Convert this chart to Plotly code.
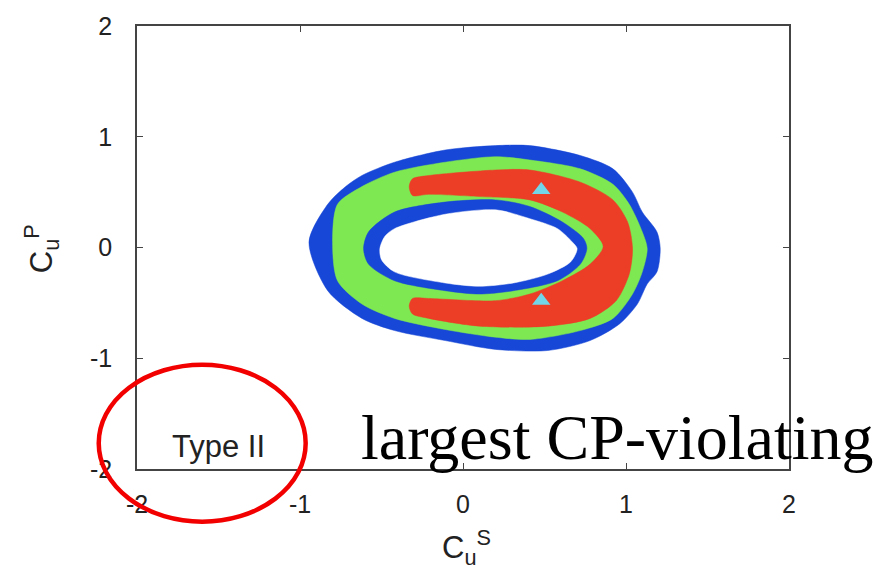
import plotly.graph_objects as go

# Allowed regions in the (C_u^S, C_u^P) plane, traced as closed boundaries
outer_blue_x = [-0.945, -0.83, -0.72, -0.62, -0.42, -0.11, 0.20, 0.41, 0.72, 0.92, 1.04, 1.10, 1.19, 1.21,
                1.19, 1.13, 1.07, 0.96, 0.78, 0.52, 0.20, -0.11, -0.42, -0.62, -0.83]
outer_blue_y = [0.05, 0.39, 0.55, 0.65, 0.77, 0.88, 0.92, 0.92, 0.83, 0.71, 0.50, 0.32, 0.14, -0.01,
                -0.22, -0.33, -0.51, -0.69, -0.84, -0.93, -0.92, -0.84, -0.75, -0.64, -0.39]

green_x = [-0.80, -0.77, -0.62, -0.42, -0.11, 0.20, 0.41, 0.72, 0.92, 1.02, 1.10, 1.13,
           1.10, 1.04, 0.92, 0.72, 0.41, 0.20, -0.11, -0.42, -0.62, -0.77]
green_y = [0.05, 0.39, 0.55, 0.68, 0.77, 0.82, 0.79, 0.71, 0.57, 0.39, 0.14, -0.01,
           -0.22, -0.42, -0.64, -0.75, -0.83, -0.81, -0.74, -0.64, -0.51, -0.30]

red_x = [-0.31, -0.21, 0.20, 0.41, 0.72, 0.92, 1.01, 1.04, 1.02, 0.94, 0.78, 0.52, 0.10, -0.21, -0.31,
         -0.33, -0.31, -0.21, 0.20, 0.41, 0.61, 0.78, 0.86, 0.78, 0.61, 0.41, 0.10, -0.21, -0.31, -0.33]
red_y = [0.62, 0.65, 0.70, 0.70, 0.59, 0.43, 0.23, -0.01, -0.24, -0.48, -0.64, -0.71, -0.71, -0.64, -0.60,
         -0.53, -0.46, -0.46, -0.48, -0.42, -0.30, -0.15, 0.01, 0.17, 0.32, 0.43, 0.46, 0.48, 0.47, 0.55]

inner_blue_x = [-0.61, -0.58, -0.42, -0.11, 0.20, 0.41, 0.61, 0.74, 0.76, 0.72, 0.58, 0.31, 0.10, -0.11, -0.42, -0.58]
inner_blue_y = [-0.01, 0.14, 0.32, 0.41, 0.43, 0.37, 0.23, 0.08, -0.01, -0.15, -0.30, -0.39, -0.42, -0.39, -0.30, -0.15]

hole_x = [-0.51, -0.48, -0.42, -0.11, 0.20, 0.41, 0.58, 0.67, 0.70, 0.66, 0.52, 0.31, 0.10, -0.11, -0.42, -0.50]
hole_y = [-0.01, 0.10, 0.17, 0.30, 0.34, 0.26, 0.17, 0.05, -0.01, -0.13, -0.24, -0.32, -0.35, -0.32, -0.22, -0.11]

# Points marked with triangles
best_x = [0.48, 0.48]
best_y = [0.52, -0.48]

tick_vals = [-2, -1, 0, 1, 2]
tick_text = ["-2", "-1", "0", "1", "2"]

BLUE = "#1747d6"
GREEN = "#7ee852"
RED = "#ec3d26"
CYAN = "#72d6e8"
SANS = "Liberation Sans, Arial, sans-serif"

fig = go.Figure()


def region(xs, ys, color):
    fig.add_trace(go.Scatter(
        x=xs + xs[:1], y=ys + ys[:1], mode="lines", fill="toself",
        fillcolor=color, line=dict(color=color, width=0.5, shape="spline", smoothing=0.8),
        hoverinfo="skip", showlegend=False))


region(outer_blue_x, outer_blue_y, BLUE)
region(green_x, green_y, GREEN)
region(red_x, red_y, RED)
region(inner_blue_x, inner_blue_y, BLUE)
region(hole_x, hole_y, "white")

fig.add_trace(go.Scatter(
    x=best_x, y=best_y, mode="markers",
    marker=dict(symbol="triangle-up", size=16, color=CYAN, line=dict(width=0)),
    showlegend=False, hoverinfo="skip"))

axis_common = dict(
    range=[-2, 2], tickvals=tick_vals, ticktext=tick_text,
    ticks="inside", ticklen=6, tickwidth=1.2, tickcolor="#444",
    showline=True, linecolor="#444", linewidth=1.6, mirror="ticks",
    showgrid=False, zeroline=False,
    tickfont=dict(family=SANS, size=25, color="#222"),
)

title_font = dict(family=SANS, size=31, color="#222")

fig.update_layout(
    width=892, height=574,
    margin=dict(l=137, r=103, t=23, b=105),
    paper_bgcolor="white", plot_bgcolor="white",
    xaxis=dict(**axis_common, ticklabelstandoff=12),
    yaxis=dict(**axis_common, ticklabelstandoff=18),
    annotations=[
        # axis titles
        dict(x=0.506, y=-0.177, xref="paper", yref="paper", text="C<sub>u</sub><sup>S</sup>",
             showarrow=False, xanchor="center", yanchor="middle", font=title_font),
        dict(x=-0.146, y=0.498, xref="paper", yref="paper", text="C<sub>u</sub><sup>P</sup>",
             showarrow=False, xanchor="center", yanchor="middle", textangle=-90, font=title_font),
        dict(x=-1.5, y=-1.8, xref="x", yref="y", text="Type II", showarrow=False,
             font=dict(family=SANS, size=31, color="#222")),
        dict(x=0.7377, y=0.070, xref="paper", yref="paper", text="largest CP-violating",
             showarrow=False, xanchor="center", yanchor="middle",
             font=dict(family="Liberation Serif, Times New Roman, serif", size=64, color="black")),
    ],
    shapes=[
        dict(type="circle", xref="paper", yref="paper",
             x0=-0.0587, x1=0.2587, y0=-0.1188, y1=0.2354,
             line=dict(color="#f20000", width=4.5), layer="above"),
    ],
)

fig.write_html("out.html")
